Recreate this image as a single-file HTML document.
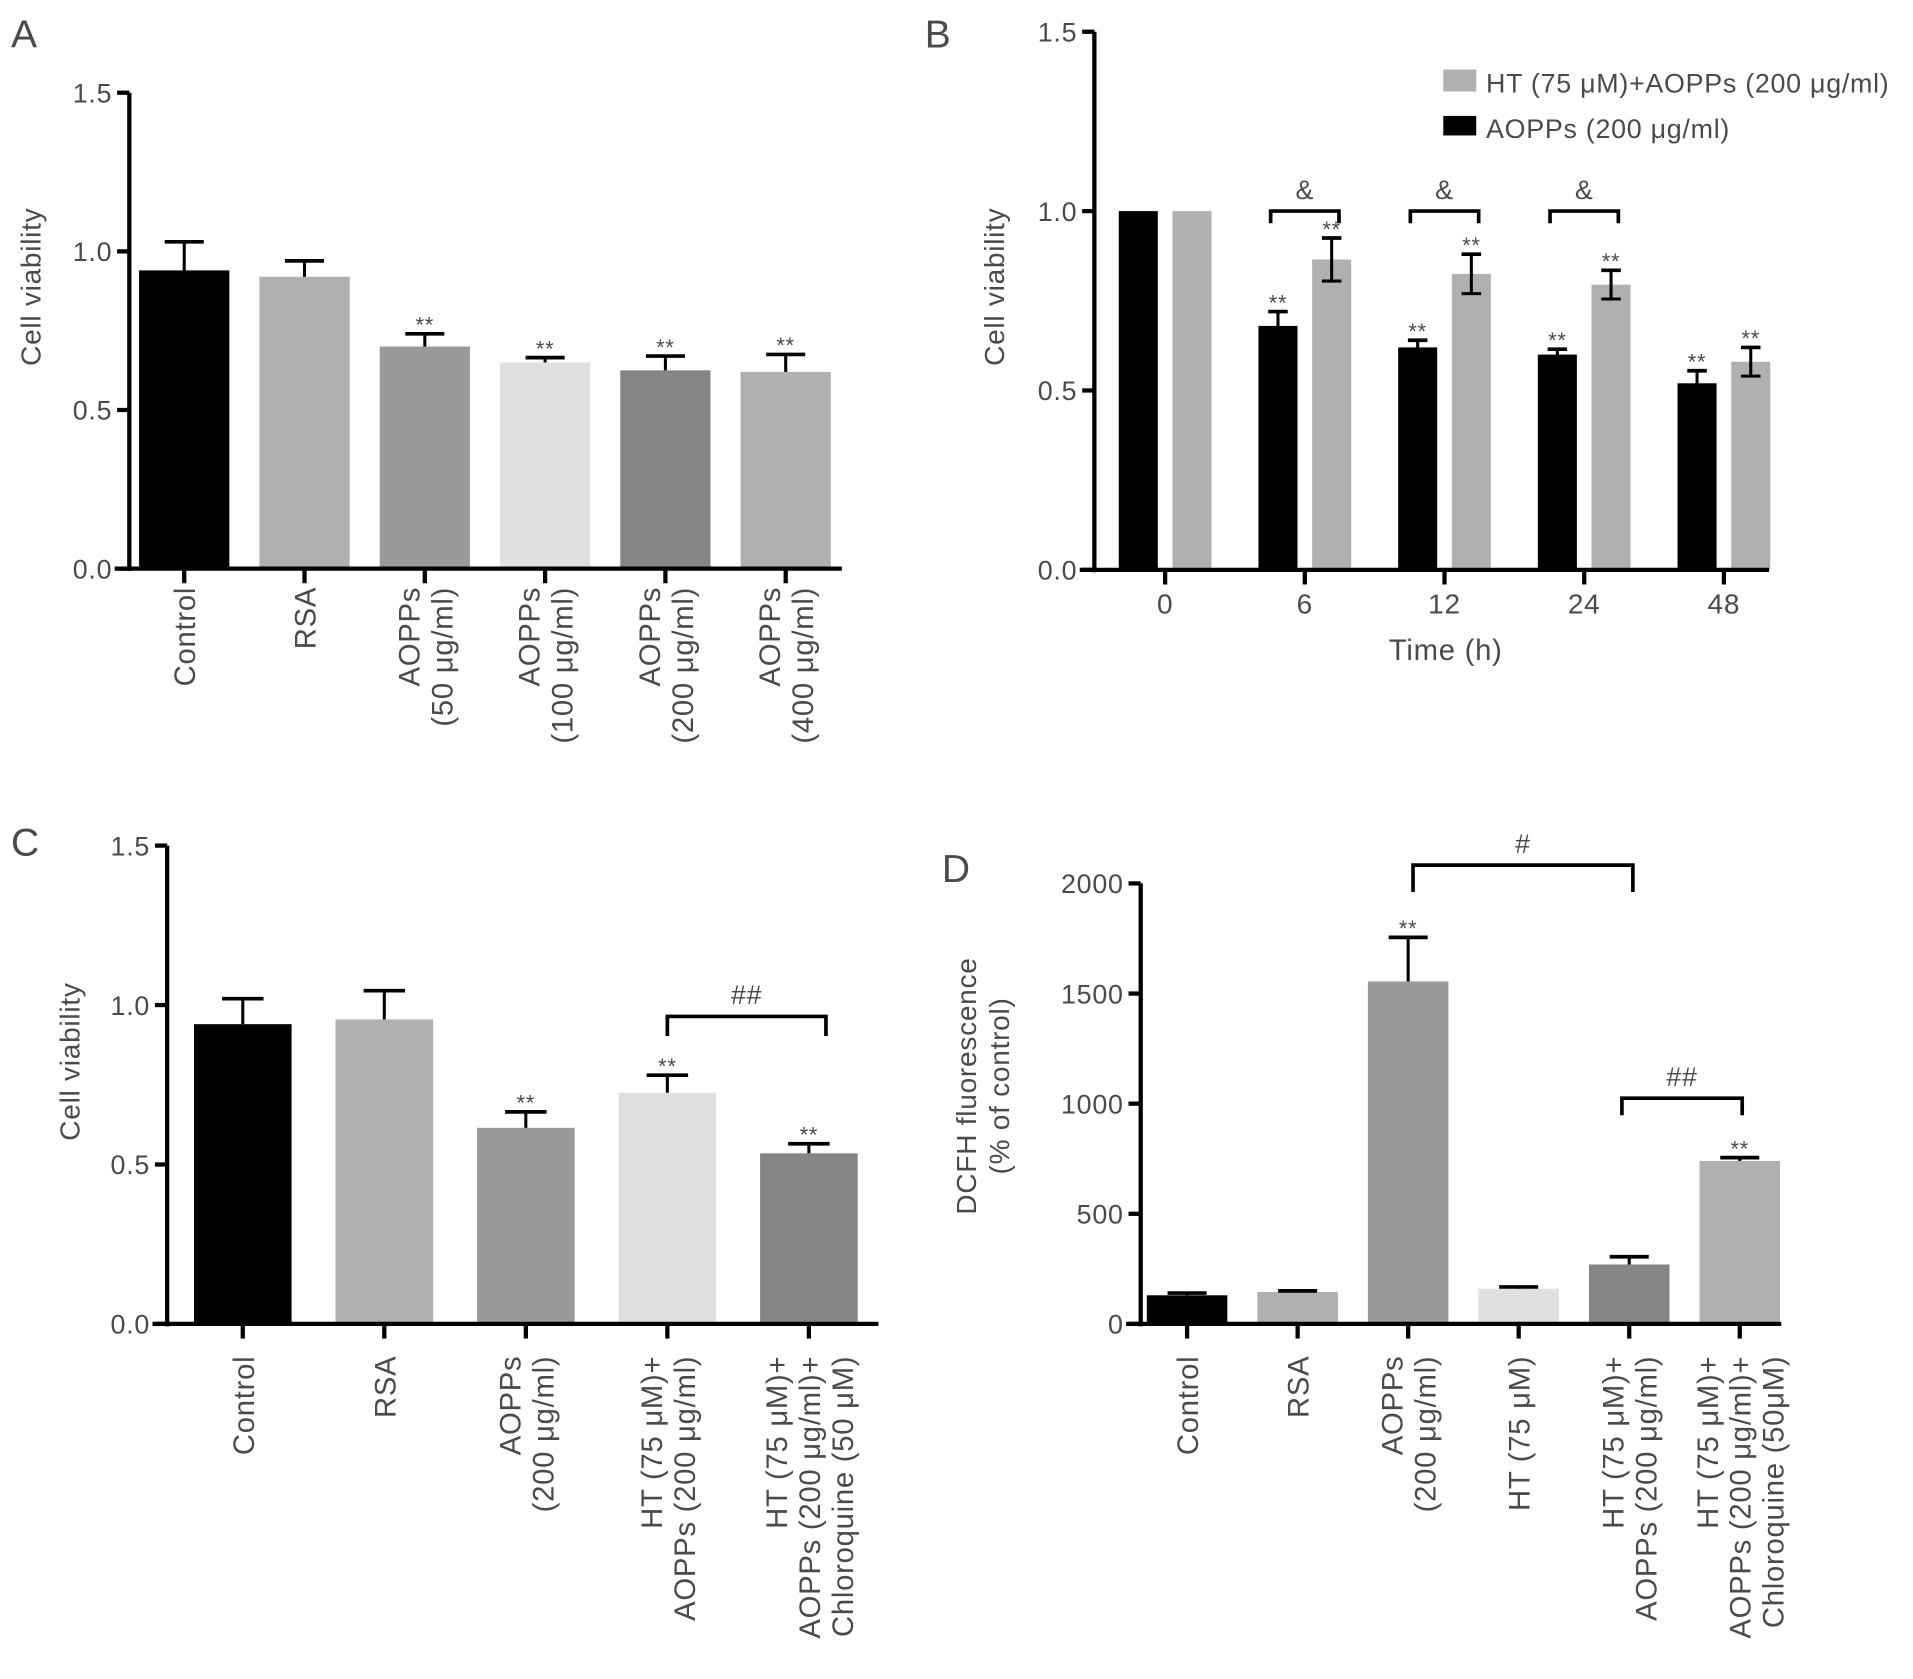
<!DOCTYPE html>
<html><head><meta charset="utf-8"><style>
html,body{margin:0;padding:0;background:#fff}
svg{display:block}
text{font-family:"Liberation Sans","DejaVu Sans",sans-serif;fill:#4a4a4a;letter-spacing:0.6px}
</style></head><body>
<svg id="fig" width="1913" height="1679" viewBox="0 0 1568 1376" preserveAspectRatio="none" xmlns="http://www.w3.org/2000/svg"></svg>
<script>
// Panel A data
const aCats=[["Control"],["RSA"],["AOPPs","(50 μg/ml)"],["AOPPs","(100 μg/ml)"],["AOPPs","(200 μg/ml)"],["AOPPs","(400 μg/ml)"]];
const aVals=[0.94,0.92,0.70,0.65,0.625,0.62];
const aErr=[0.09,0.05,0.04,0.015,0.045,0.055];
const aSig=["","","**","**","**","**"];
const aTicks=[0,0.5,1.0,1.5];
// Panel B data
const bCats=["0","6","12","24","48"];
const bBlack=[1.0,0.68,0.62,0.60,0.52];
const bBlackErr=[0,0.04,0.02,0.015,0.035];
const bGrey=[1.0,0.865,0.825,0.795,0.58];
const bGreyErr=[0,0.06,0.055,0.04,0.04];
const bBlackSig=["","**","**","**","**"];
const bGreySig=["","**","**","**","**"];
const bTicks=[0,0.5,1.0,1.5];
// Panel C data
const cCats=[["Control"],["RSA"],["AOPPs","(200 μg/ml)"],["HT (75 μM)+","AOPPs (200 μg/ml)"],["HT (75 μM)+","AOPPs (200 μg/ml)+","Chloroquine (50 μM)"]];
const cVals=[0.94,0.955,0.615,0.725,0.535];
const cErr=[0.08,0.09,0.05,0.055,0.03];
const cSig=["","","**","**","**"];
const cTicks=[0,0.5,1.0,1.5];
// Panel D data
const dCats=[["Control"],["RSA"],["AOPPs","(200 μg/ml)"],["HT (75 μM)"],["HT (75 μM)+","AOPPs (200 μg/ml)"],["HT (75 μM)+","AOPPs (200 μg/ml)+","Chloroquine (50μM)"]];
const dVals=[130,145,1555,160,270,740];
const dErr=[10,5,200,8,35,15];
const dSig=["","","**","","","**"];
const dTicks=[0,500,1000,1500,2000];

const svg=document.getElementById('fig');
const NS='http://www.w3.org/2000/svg';
function mk(tag,attrs,parent,txt){const e=document.createElementNS(NS,tag);for(const k in attrs)e.setAttribute(k,attrs[k]);if(txt!==undefined)e.textContent=txt;(parent||svg).appendChild(e);return e;}
const colA=["#000","#b0b0b0","#9a9a9a","#e0e0e0","#858585","#b0b0b0"];

function axes(g,x0,xEnd,y0,yTop,ticks,scale,fmt){
  const ax=mk('line',{x1:x0,y1:yTop,x2:x0,y2:y0+2,stroke:'#000','stroke-width':3.5},g);
  
  const bx=mk('line',{x1:x0-12,y1:y0,x2:xEnd,y2:y0,stroke:'#000','stroke-width':3.5},g);
  
  ticks.forEach(t=>{const y=scale(t);
    mk('line',{x1:x0-10,y1:y,x2:x0,y2:y,stroke:'#000','stroke-width':3.5},g);
    const tl=mk('text',{x:x0-14,y:y+8,'text-anchor':'end','font-size':22},g,fmt(t));
    });
}
function errbar(g,x,yv,ye,w){
  mk('line',{x1:x,y1:yv,x2:x,y2:ye,stroke:'#000','stroke-width':2.5},g);
  mk('line',{x1:x-w,y1:ye,x2:x+w,y2:ye,stroke:'#000','stroke-width':3},g);
}
function star(g,x,y,s){if(!s)return;const t=mk('text',{x:x,y:y+4,'text-anchor':'middle','font-size':18},g,s);
  }
function xlabels(g,cx,y0,lines){
  const n=lines.length;
  lines.forEach((ln,i)=>{const x=cx+(i-(n-1)/2)*27+9;
    const t=mk('text',{x:x,y:y0,'text-anchor':'end','font-size':24,transform:`rotate(-90 ${x} ${y0})`},g,ln);
    });
}
function bracket(g,x1,x2,y,drop,label){
  mk('path',{d:`M${x1},${y+drop}V${y}H${x2}V${y+drop}`,fill:'none',stroke:'#000','stroke-width':3},g);
  const t=mk('text',{x:(x1+x2)/2,y:y-10,'text-anchor':'middle','font-size':22},g,label);
  
}
function ytitle(g,x,y,lines){
  lines.forEach((ln,i)=>{const xx=x+i*27;const t=mk('text',{x:xx,y:y,'text-anchor':'middle','font-size':23,transform:`rotate(-90 ${xx} ${y})`},g,ln);
    });
}
function panelLetter(x,y,l){const t=mk('text',{x:x,y:y,'font-size':32,fill:'#222'},svg,l);
  }

// Panel A
{const g=mk('g',{});
 const y0=466,yTop=76,x0=106;const sc=v=>y0-(v/1.5)*(y0-yTop);const cx=i=>151+i*98.6;
 aVals.forEach((v,i)=>{const r=mk('rect',{x:cx(i)-37,y:sc(v),width:74,height:y0-sc(v),fill:colA[i]},g);
  
  errbar(g,cx(i),sc(v),sc(v+aErr[i]),16);star(g,cx(i),sc(v+aErr[i])-5,aSig[i]);
  mk('line',{x1:cx(i),y1:y0,x2:cx(i),y2:y0+12,stroke:'#000','stroke-width':3.5},g);
  xlabels(g,cx(i),481,aCats[i]);});
 axes(g,x0,690,y0,yTop,aTicks,sc,t=>t.toFixed(1));
 ytitle(g,33,235,["Cell viability"]);}
panelLetter(9,39,"A");

// Panel B
{const g=mk('g',{});
 const y0=467,yTop=26,x0=897;const sc=v=>y0-(v/1.5)*(y0-yTop);const cx=i=>955+i*114.5;
 bCats.forEach((c,i)=>{
  const xb=cx(i)-22,xg=cx(i)+22;
  const rb=mk('rect',{x:xb-16,y:sc(bBlack[i]),width:32,height:y0-sc(bBlack[i]),fill:'#000'},g);
  
  const rg=mk('rect',{x:xg-16,y:sc(bGrey[i]),width:32,height:y0-sc(bGrey[i]),fill:'#b0b0b0'},g);
  
  if(bBlackErr[i]){errbar(g,xb,sc(bBlack[i]-bBlackErr[i]),sc(bBlack[i]+bBlackErr[i]),8);mk('line',{x1:xb-8,y1:sc(bBlack[i]-bBlackErr[i]),x2:xb+8,y2:sc(bBlack[i]-bBlackErr[i]),stroke:'#000','stroke-width':2.5},g);}
  if(bGreyErr[i]){errbar(g,xg,sc(bGrey[i]-bGreyErr[i]),sc(bGrey[i]+bGreyErr[i]),8);mk('line',{x1:xg-8,y1:sc(bGrey[i]-bGreyErr[i]),x2:xg+8,y2:sc(bGrey[i]-bGreyErr[i]),stroke:'#000','stroke-width':2.5},g);}
  star(g,xb,sc(bBlack[i]+bBlackErr[i])-5,bBlackSig[i]);star(g,xg,sc(bGrey[i]+bGreyErr[i])-5,bGreySig[i]);
  if(i>=1&&i<=3)bracket(g,xb-6,xg+6,sc(1.0),10,"&");
  mk('line',{x1:cx(i),y1:y0,x2:cx(i),y2:y0+12,stroke:'#000','stroke-width':3.5},g);
  const t=mk('text',{x:cx(i),y:503,'text-anchor':'middle','font-size':23},g,c);
  });
 axes(g,x0,1450,y0,yTop,bTicks,sc,t=>t.toFixed(1));
 ytitle(g,823,235,["Cell viability"]);
 const xt=mk('text',{x:1185,y:541,'text-anchor':'middle','font-size':24},g,"Time (h)");
 
 const l1=mk('rect',{x:1183,y:57,width:27,height:18,fill:'#b0b0b0'},g);
 const t1=mk('text',{x:1218,y:76,'font-size':22},g,"HT (75 μM)+AOPPs (200 μg/ml)");
 const l2=mk('rect',{x:1183,y:95,width:27,height:16,fill:'#000'},g);
 const t2=mk('text',{x:1218,y:113,'font-size':22},g,"AOPPs (200 μg/ml)");}
panelLetter(758,39,"B");

// Panel C
{const g=mk('g',{});
 const y0=1085,yTop=693,x0=137;const sc=v=>y0-(v/1.5)*(y0-yTop);const cx=i=>199+i*116;
 cVals.forEach((v,i)=>{const r=mk('rect',{x:cx(i)-40,y:sc(v),width:80,height:y0-sc(v),fill:colA[i]},g);
  
  errbar(g,cx(i),sc(v),sc(v+cErr[i]),17);star(g,cx(i),sc(v+cErr[i])-5,cSig[i]);
  mk('line',{x1:cx(i),y1:y0,x2:cx(i),y2:y0+12,stroke:'#000','stroke-width':3.5},g);
  xlabels(g,cx(i),1111,cCats[i]);});
 bracket(g,cx(3),cx(4)+14,833,16,"##");
 axes(g,x0,720,y0,yTop,cTicks,sc,t=>t.toFixed(1));
 ytitle(g,65,870,["Cell viability"]);}
panelLetter(9,701,"C");

// Panel D
{const g=mk('g',{});
 const y0=1085,yTop=724,x0=935;const sc=v=>y0-(v/2000)*(y0-yTop);const cx=i=>973+i*90.6;
 dVals.forEach((v,i)=>{const r=mk('rect',{x:cx(i)-33,y:sc(v),width:66,height:y0-sc(v),fill:colA[i]},g);
  
  errbar(g,cx(i),sc(v),sc(v+dErr[i]),16);star(g,cx(i),sc(v+dErr[i])-5,dSig[i]);
  mk('line',{x1:cx(i),y1:y0,x2:cx(i),y2:y0+12,stroke:'#000','stroke-width':3.5},g);
  xlabels(g,cx(i),1111,dCats[i]);});
 bracket(g,cx(2)+4,cx(4)+3,709,22,"#");
 bracket(g,cx(4)-6,cx(5)+2,900,14,"##");
 axes(g,x0,1460,y0,yTop,dTicks,sc,t=>String(t));
 ytitle(g,800,890,["DCFH fluorescence","(% of control)"]);}
panelLetter(772,723,"D");
</script>
</body></html>
